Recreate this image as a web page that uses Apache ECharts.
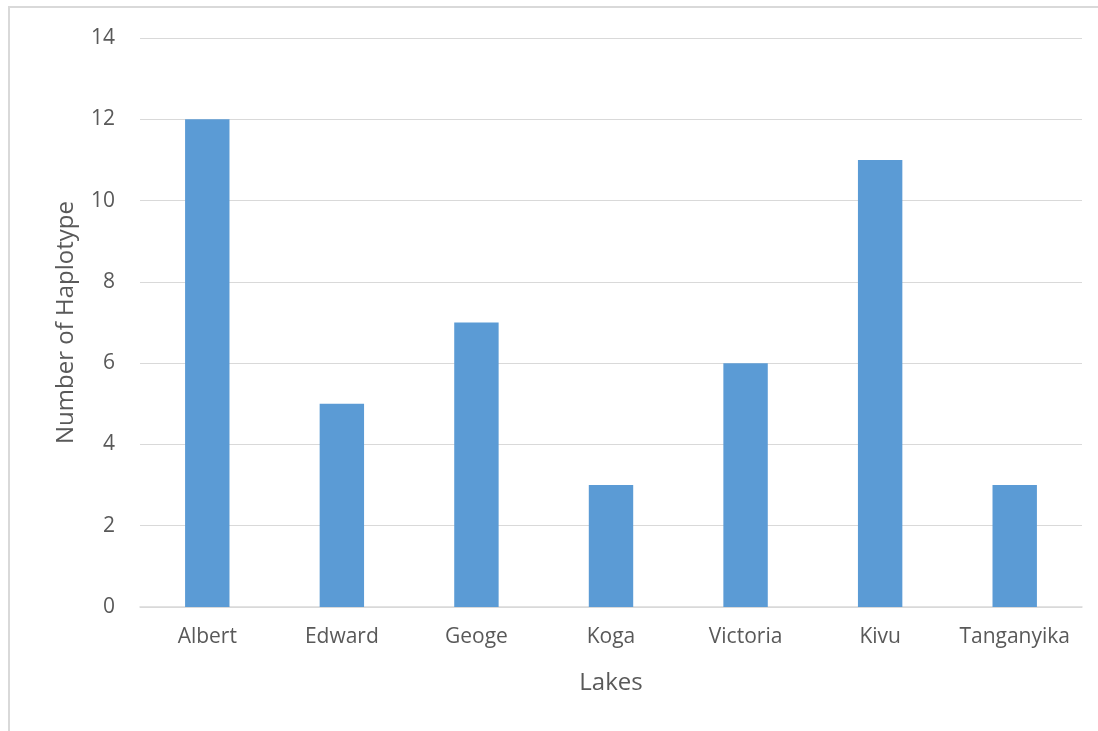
<!DOCTYPE html>
<html>
<head>
<meta charset="utf-8">
<script src="https://cdn.jsdelivr.net/npm/echarts@6/dist/echarts.min.js"></script>
<style>
html,body{margin:0;padding:0;background:#fff;}
#frame{position:absolute;left:8px;top:6px;width:1090px;height:725px;border-left:2px solid #d9d9d9;border-top:2px solid #d9d9d9;box-sizing:border-box;}
#chart{position:absolute;left:0;top:0;width:1098px;height:731px;}
</style>
</head>
<body>
<div id="frame"></div>
<div id="chart"></div>
<script>
const lakes = ['Albert','Edward','Geoge','Koga','Victoria','Kivu','Tanganyika'];
const haplotypes = [12,5,7,3,6,11,3];
const yTicks = [0,2,4,6,8,10,12,14];

const chart = echarts.init(document.getElementById('chart'));
const font = '"Open Sans", "Noto Sans", sans-serif';
chart.setOption({
  animation:false,
  grid:{left:140,right:16,top:38,bottom:124},
  xAxis:{
    type:'category',
    data:lakes,
    name:'Lakes',
    nameLocation:'middle',
    nameGap:64,
    nameTextStyle:{fontFamily:font,fontSize:24,color:'#595959'},
    axisLine:{lineStyle:{color:'#d9d9d9',width:1.5}},
    axisTick:{show:false},
    axisLabel:{interval:0,hideOverlap:false,fontFamily:font,fontSize:21,color:'#595959',margin:20}
  },
  yAxis:{
    type:'value',
    min:yTicks[0],
    max:yTicks[yTicks.length-1],
    interval:2,
    name:'Number of Haplotype',
    nameLocation:'middle',
    nameGap:62,
    nameTextStyle:{fontFamily:font,fontSize:24,color:'#595959'},
    axisLine:{show:false},
    axisTick:{show:false},
    splitLine:{lineStyle:{color:'#d9d9d9',width:1}},
    axisLabel:{fontFamily:font,fontSize:21,color:'#595959',margin:25}
  },
  series:[{
    type:'bar',
    data:haplotypes,
    barWidth:'33%',
    itemStyle:{color:'#5b9bd5'}
  }]
});
</script>
</body>
</html>
